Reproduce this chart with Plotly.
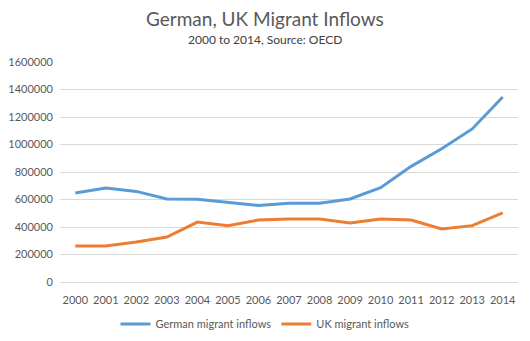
import plotly.graph_objects as go

years = [str(y) for y in range(2000, 2015)]
german = [647000, 684000, 659000, 604000, 602000, 579000, 557000, 572000, 573000, 604000, 686000, 841000, 969000, 1113000, 1345000]
uk = [262000, 262000, 291000, 327000, 436000, 410000, 451000, 458000, 458000, 429000, 458000, 451000, 385000, 410000, 502000]
y_ticks = [0, 200000, 400000, 600000, 800000, 1000000, 1200000, 1400000, 1600000]

FONT = "Lato, 'Open Sans', sans-serif"
GREY = "#595959"

fig = go.Figure()
fig.add_trace(go.Scatter(x=years, y=german, mode="lines", name="German migrant inflows",
                         line=dict(color="#5B9BD5", width=3)))
fig.add_trace(go.Scatter(x=years, y=uk, mode="lines", name="UK migrant inflows",
                         line=dict(color="#ED7D31", width=3)))

fig.update_layout(
    width=530, height=341,
    margin=dict(l=60, r=12, t=62, b=59),
    paper_bgcolor="white", plot_bgcolor="white",
    font=dict(family=FONT, size=11, color=GREY),
    showlegend=True,
    legend=dict(orientation="h", x=0.5, xanchor="center", xref="container",
                y=(341 - 324) / 341, yanchor="middle", yref="container",
                font=dict(size=11, color=GREY), itemwidth=30, tracegroupgap=0),
    xaxis=dict(type="category", range=[-0.5, 14.5], showgrid=False, showline=True, linecolor="#D9D9D9",
               ticks="", tickfont=dict(size=11, color=GREY), ticklabelstandoff=8, fixedrange=True,
               automargin=False),
    yaxis=dict(range=[0, 1600000], tickvals=y_ticks, ticktext=[str(v) for v in y_ticks],
               showgrid=True, gridcolor="#D9D9D9", gridwidth=1, zeroline=False,
               showline=False, ticks="", tickfont=dict(size=11, color=GREY), ticklabelstandoff=6,
               automargin=False),
    annotations=[
        dict(text="German, UK Migrant Inflows", xref="paper", yref="paper", x=0.4476, y=1.2,
             showarrow=False, font=dict(size=19, color=GREY, family=FONT), xanchor="center", yanchor="middle"),
        dict(text="2000 to 2014, Source: OECD", xref="paper", yref="paper", x=0.4476, y=1.1,
             showarrow=False, font=dict(size=12, color="#404040", family=FONT), xanchor="center", yanchor="middle"),
    ],
)

fig.write_html("out.html")
